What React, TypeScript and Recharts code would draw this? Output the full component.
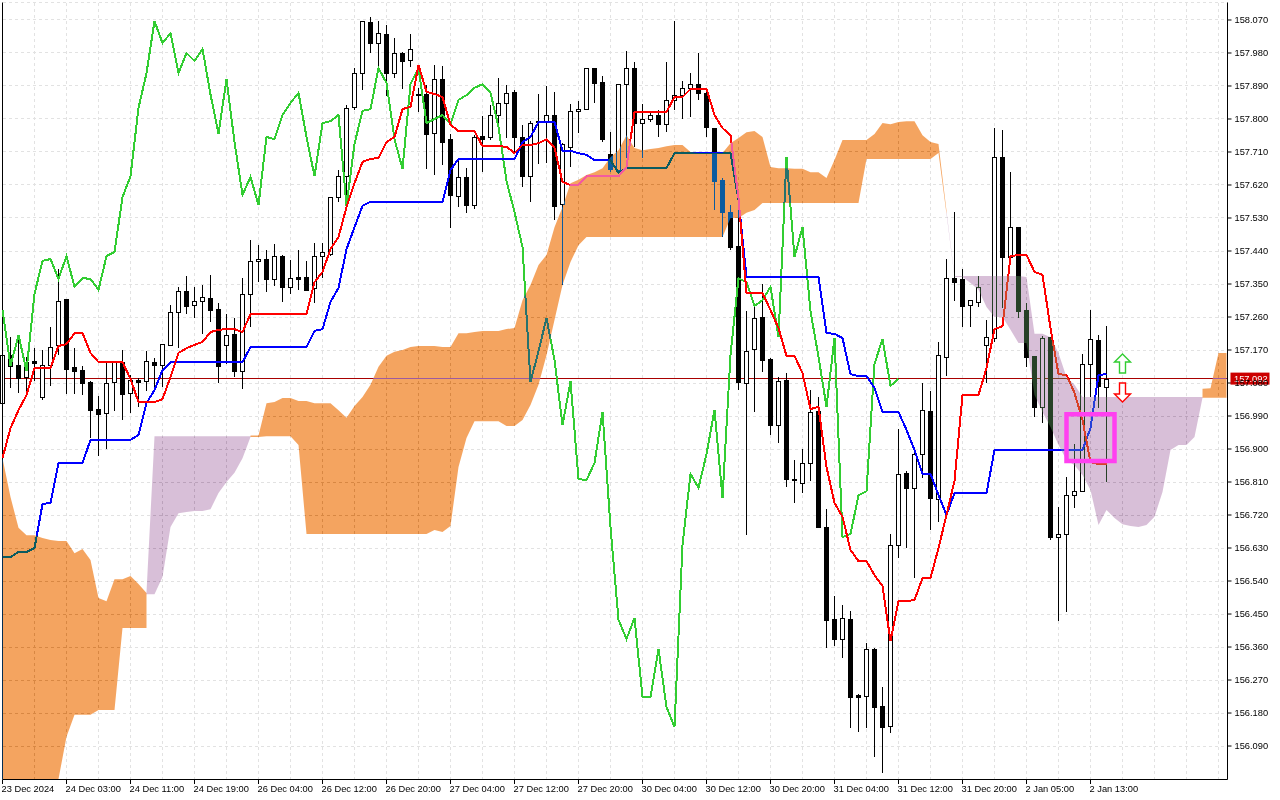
import {
  Area,
  Bar,
  CartesianGrid,
  ComposedChart,
  Line,
  ReferenceArea,
  ReferenceDot,
  ReferenceLine,
  XAxis,
  YAxis,
} from "recharts";

const FONT = '"Liberation Sans", Arial, sans-serif';

const priceTicks = [
  156.09, 156.18, 156.27, 156.36, 156.45, 156.54, 156.63, 156.72, 156.81, 156.9, 156.99, 157.08,
  157.17, 157.26, 157.35, 157.44, 157.53, 157.62, 157.71, 157.8, 157.89, 157.98, 158.07,
];

const timeLabels = [
  "23 Dec 2024", "24 Dec 03:00", "24 Dec 11:00", "24 Dec 19:00", "26 Dec 04:00", "26 Dec 12:00",
  "26 Dec 20:00", "27 Dec 04:00", "27 Dec 12:00", "27 Dec 20:00", "30 Dec 04:00", "30 Dec 12:00",
  "30 Dec 20:00", "31 Dec 04:00", "31 Dec 12:00", "31 Dec 20:00", "2 Jan 05:00", "2 Jan 13:00",
];

const opens = [
  157.025, 157.156, 157.129, 157.096, 157.14, 157.042, 157.129, 157.184, 157.309, 157.124,
  157.115, 157.083, 157.009, 156.998, 157.083, 157.137, 157.053, 157.088, 157.085, 157.137,
  157.129, 157.184, 157.274, 157.331, 157.293, 157.304, 157.312, 157.282, 157.184, 157.214,
  157.113, 157.323, 157.413, 157.418, 157.364, 157.426, 157.342, 157.369, 157.369, 157.339,
  157.426, 157.432, 157.587, 157.644, 157.833, 157.925, 158.065, 158.007, 158.032, 157.925,
  157.98, 157.961, 157.869, 157.868, 157.762, 157.909, 157.745, 157.59, 157.642, 157.565,
  157.754, 157.751, 157.811, 157.844, 157.874, 157.751, 157.644, 157.792, 157.792, 157.811,
  157.568, 157.724, 157.822, 157.827, 157.939, 157.901, 157.704, 157.661, 157.895, 157.939,
  157.789, 157.8, 157.811, 157.786, 157.852, 157.865, 157.885, 157.895, 157.871, 157.775,
  157.634, 157.546, 157.454, 157.08, 157.173, 157.26, 157.145, 156.965, 157.088, 156.818,
  156.807, 156.862, 157.004, 156.687, 156.436, 156.382, 156.436, 156.229, 156.226, 156.355,
  156.199, 156.144, 156.638, 156.834, 156.794, 156.886, 157.004, 156.764, 157.151, 157.366,
  157.364, 157.293, 157.301, 157.184, 157.203, 157.696, 157.424, 157.505, 157.279, 157.154,
  157.015, 157.205, 156.66, 156.668, 156.774, 156.785, 157.132, 157.197, 157.069,
];

const closes = [
  157.156, 157.126, 157.094, 157.137, 157.134, 157.129, 157.178, 157.304, 157.118, 157.113,
  157.08, 157.006, 156.995, 157.08, 157.137, 157.05, 157.088, 157.083, 157.14, 157.129,
  157.186, 157.274, 157.331, 157.29, 157.304, 157.315, 157.279, 157.126, 157.211, 157.113,
  157.323, 157.413, 157.418, 157.364, 157.426, 157.342, 157.366, 157.364, 157.334, 157.426,
  157.437, 157.587, 157.644, 157.83, 157.925, 158.067, 158.007, 158.034, 157.925, 157.98,
  157.958, 157.991, 157.867, 157.759, 157.909, 157.737, 157.593, 157.642, 157.565, 157.751,
  157.745, 157.811, 157.844, 157.871, 157.751, 157.644, 157.789, 157.794, 157.811, 157.563,
  157.732, 157.822, 157.827, 157.939, 157.898, 157.745, 157.664, 157.895, 157.939, 157.789,
  157.8, 157.811, 157.786, 157.852, 157.865, 157.885, 157.895, 157.871, 157.778, 157.631,
  157.546, 157.451, 157.083, 157.167, 157.257, 157.143, 156.965, 157.085, 156.818, 156.815,
  156.862, 157.001, 156.687, 156.434, 156.382, 156.439, 156.224, 156.224, 156.355, 156.196,
  156.142, 156.638, 156.832, 156.794, 156.886, 157.006, 156.766, 157.156, 157.366, 157.355,
  157.29, 157.306, 157.342, 157.205, 157.696, 157.424, 157.505, 157.276, 157.151, 157.015,
  157.203, 156.66, 156.668, 156.774, 156.785, 157.132, 157.2, 157.072, 157.092,
];

const highs = [
  157.165, 157.205, 157.203, 157.151, 157.175, 157.17, 157.233, 157.391, 157.309, 157.175,
  157.126, 157.085, 157.045, 157.134, 157.14, 157.17, 157.102, 157.094, 157.167, 157.148,
  157.186, 157.293, 157.342, 157.372, 157.342, 157.347, 157.375, 157.298, 157.268, 157.257,
  157.366, 157.47, 157.456, 157.443, 157.459, 157.429, 157.415, 157.443, 157.413, 157.462,
  157.462, 157.587, 157.661, 157.838, 157.939, 158.067, 158.078, 158.067, 158.056, 158.021,
  157.983, 158.032, 157.884, 157.893, 157.947, 157.944, 157.759, 157.688, 157.666, 157.756,
  157.808, 157.838, 157.912, 157.893, 157.879, 157.784, 157.794, 157.868, 157.89, 157.874,
  157.735, 157.841, 157.849, 157.939, 157.939, 157.917, 157.764, 157.895, 157.985, 157.955,
  157.841, 157.819, 157.825, 157.955, 158.067, 157.904, 157.925, 157.98, 157.874, 157.775,
  157.639, 157.565, 157.579, 157.276, 157.287, 157.35, 157.148, 157.096, 157.107, 156.87,
  156.9, 157.061, 157.042, 156.736, 156.499, 156.475, 156.458, 156.232, 156.371, 156.357,
  156.251, 156.668, 156.954, 156.84, 156.897, 157.08, 157.058, 157.192, 157.418, 157.546,
  157.391, 157.306, 157.372, 157.252, 157.775, 157.77, 157.655, 157.505, 157.298, 157.154,
  157.208, 157.205, 156.742, 156.824, 156.914, 157.159, 157.279, 157.211, 157.235,
];

const lows = [
  157.02, 157.066, 157.053, 157.053, 157.085, 157.034, 157.072, 157.156, 157.05, 157.05,
  157.047, 156.93, 156.881, 156.9, 157.004, 156.979, 156.998, 157.015, 157.058, 157.069,
  157.069, 157.181, 157.175, 157.268, 157.257, 157.214, 157.246, 157.08, 157.132, 157.096,
  157.064, 157.233, 157.355, 157.328, 157.345, 157.301, 157.323, 157.334, 157.334, 157.298,
  157.366, 157.426, 157.574, 157.56, 157.825, 157.879, 157.98, 157.925, 157.863, 157.912,
  157.882, 157.942, 157.819, 157.664, 157.647, 157.674, 157.503, 157.56, 157.544, 157.555,
  157.655, 157.743, 157.789, 157.748, 157.71, 157.614, 157.574, 157.677, 157.68, 157.525,
  157.347, 157.669, 157.762, 157.825, 157.844, 157.737, 157.655, 157.653, 157.694, 157.724,
  157.694, 157.792, 157.751, 157.764, 157.825, 157.8, 157.805, 157.852, 157.751, 157.552,
  157.478, 157.443, 157.061, 156.665, 157.001, 157.11, 156.938, 156.916, 156.796, 156.753,
  156.78, 156.813, 156.685, 156.357, 156.363, 156.33, 156.139, 156.128, 156.139, 156.06,
  156.016, 156.125, 156.603, 156.63, 156.548, 156.821, 156.679, 156.701, 157.099, 157.304,
  157.233, 157.233, 157.287, 157.08, 157.192, 157.284, 157.415, 157.257, 157.124, 156.987,
  156.971, 156.652, 156.431, 156.455, 156.739, 156.783, 157.042, 157.012, 156.81,
];

const tenkan = [
  156.875, 156.957, 157.006, 157.047, 157.121, 157.121, 157.121, 157.181, 157.186, 157.216,
  157.216, 157.162, 157.137, 157.137, 157.137, 157.137, 157.091, 157.028, 157.028, 157.028,
  157.036, 157.096, 157.162, 157.175, 157.184, 157.192, 157.219, 157.225, 157.227, 157.227,
  157.219, 157.268, 157.268, 157.268, 157.268, 157.268, 157.268, 157.268, 157.268, 157.355,
  157.383, 157.445, 157.478, 157.56, 157.625, 157.683, 157.691, 157.694, 157.737, 157.751,
  157.827, 157.833, 157.947, 157.874, 157.868, 157.86, 157.784, 157.767, 157.767, 157.767,
  157.726, 157.726, 157.726, 157.724, 157.707, 157.729, 157.729, 157.734, 157.745, 157.721,
  157.628, 157.62, 157.62, 157.644, 157.644, 157.644, 157.644, 157.644, 157.669, 157.819,
  157.819, 157.819, 157.819, 157.819, 157.86, 157.86, 157.882, 157.882, 157.882, 157.811,
  157.775, 157.756, 157.584, 157.325, 157.325, 157.325, 157.279, 157.23, 157.154, 157.154,
  157.107, 157.009, 157.015, 156.851, 156.753, 156.715, 156.625, 156.594, 156.594, 156.556,
  156.526, 156.376, 156.485, 156.485, 156.488, 156.548, 156.548, 156.63, 156.72, 156.813,
  157.047, 157.047, 157.047, 157.121, 157.227, 157.235, 157.426, 157.429, 157.429, 157.383,
  157.375, 157.23, 157.104, 157.102, 157.053, 156.979, 156.864, 156.859, 156.859,
];

const kijun = [
  156.605, 156.605, 156.619, 156.619, 156.63, 156.75, 156.753, 156.862, 156.862, 156.862,
  156.862, 156.925, 156.925, 156.925, 156.925, 156.925, 156.925, 156.938, 157.025, 157.061,
  157.115, 157.137, 157.137, 157.137, 157.137, 157.137, 157.137, 157.137, 157.137, 157.137,
  157.137, 157.178, 157.178, 157.178, 157.178, 157.178, 157.178, 157.178, 157.178, 157.222,
  157.227, 157.301, 157.339, 157.445, 157.505, 157.563, 157.574, 157.574, 157.574, 157.574,
  157.574, 157.574, 157.574, 157.574, 157.574, 157.574, 157.661, 157.691, 157.691, 157.691,
  157.691, 157.691, 157.691, 157.691, 157.691, 157.737, 157.751, 157.792, 157.792, 157.792,
  157.713, 157.713, 157.707, 157.702, 157.688, 157.688, 157.688, 157.653, 157.666, 157.666,
  157.666, 157.666, 157.666, 157.666, 157.707, 157.707, 157.707, 157.707, 157.707, 157.707,
  157.707, 157.707, 157.579, 157.369, 157.369, 157.369, 157.369, 157.369, 157.369, 157.369,
  157.369, 157.369, 157.369, 157.216, 157.214, 157.203, 157.104, 157.099, 157.099, 157.066,
  157.001, 157.001, 157.001, 156.952, 156.897, 156.832, 156.832, 156.774, 156.72, 156.78,
  156.78, 156.78, 156.78, 156.78, 156.897, 156.897, 156.897, 156.897, 156.897, 156.897,
  156.897, 156.897, 156.897, 156.897, 156.897, 156.897, 156.957, 157.102, 157.104,
];

// chikou is plotted 26 bars back, so it stops at bar 112
const chikou = [
  157.279, 157.126, 157.211, 157.113, 157.323, 157.413, 157.418, 157.364, 157.426, 157.342,
  157.366, 157.364, 157.334, 157.426, 157.437, 157.587, 157.644, 157.83, 157.925, 158.067,
  158.007, 158.034, 157.925, 157.98, 157.958, 157.991, 157.867, 157.759, 157.909, 157.737,
  157.593, 157.642, 157.565, 157.751, 157.745, 157.811, 157.844, 157.871, 157.751, 157.644,
  157.789, 157.794, 157.811, 157.563, 157.732, 157.822, 157.827, 157.939, 157.898, 157.745,
  157.664, 157.895, 157.939, 157.789, 157.8, 157.811, 157.786, 157.852, 157.865, 157.885,
  157.895, 157.871, 157.778, 157.631, 157.546, 157.451, 157.083, 157.167, 157.257, 157.143,
  156.965, 157.085, 156.818, 156.815, 156.862, 157.001, 156.687, 156.434, 156.382, 156.439,
  156.224, 156.224, 156.355, 156.196, 156.142, 156.638, 156.832, 156.794, 156.886, 157.006,
  156.766, 157.156, 157.366, 157.355, 157.29, 157.306, 157.342, 157.205, 157.696, 157.424,
  157.505, 157.276, 157.151, 157.015, 157.203, 156.66, 156.668, 156.774, 156.785, 157.132,
  157.2, 157.072, 157.092,
];

// bullish cloud, three stretches (bars 0-18, 31-118, 150-153)
const bullTopA = [
  156.875, 156.769, 156.685, 156.665, 156.665, 156.657, 156.652, 156.649, 156.649, 156.616,
  156.627, 156.597, 156.494, 156.485, 156.545, 156.545, 156.554, 156.532, 156.507,
];
const bullBottomA = [
  156.0, 156.0, 156.0, 156.0, 156.0, 156.0, 156.0, 156.0, 156.115, 156.175,
  156.175, 156.175, 156.188, 156.188, 156.188, 156.412, 156.412, 156.412, 156.412,
];
const bullTopB = [
  156.937, 156.937, 157.025, 157.028, 157.039, 157.039, 157.031, 157.031, 157.025, 157.025,
  157.025, 157.006, 156.985, 157.017, 157.042, 157.075, 157.124, 157.154, 157.165, 157.17,
  157.178, 157.181, 157.181, 157.181, 157.178, 157.178, 157.216, 157.216, 157.219, 157.222,
  157.222, 157.222, 157.227, 157.23, 157.306, 157.347, 157.402, 157.429, 157.505, 157.56,
  157.625, 157.634, 157.647, 157.655, 157.666, 157.696, 157.715, 157.756, 157.721, 157.715,
  157.718, 157.721, 157.726, 157.729, 157.729, 157.71, 157.707, 157.707, 157.707, 157.707,
  157.734, 157.748, 157.764, 157.767, 157.751, 157.669, 157.666, 157.666, 157.664, 157.664,
  157.655, 157.655, 157.639, 157.688, 157.743, 157.743, 157.743, 157.743, 157.759, 157.789,
  157.786, 157.792, 157.794, 157.794, 157.756, 157.737, 157.732, 157.549,
];
const bullBottomB = [
  156.933, 156.933, 156.935, 156.935, 156.935, 156.935, 156.911, 156.668, 156.668, 156.668,
  156.668, 156.668, 156.668, 156.668, 156.668, 156.668, 156.668, 156.668, 156.668, 156.668,
  156.668, 156.668, 156.668, 156.679, 156.674, 156.69, 156.851, 156.93, 156.976, 156.976,
  156.976, 156.976, 156.963, 156.963, 156.979, 157.02, 157.075, 157.156, 157.252, 157.347,
  157.41, 157.456, 157.478, 157.478, 157.478, 157.478, 157.478, 157.478, 157.478, 157.478,
  157.478, 157.478, 157.478, 157.478, 157.478, 157.478, 157.478, 157.478, 157.478, 157.478,
  157.53, 157.53, 157.544, 157.552, 157.571, 157.571, 157.571, 157.571, 157.571, 157.571,
  157.571, 157.571, 157.571, 157.571, 157.571, 157.571, 157.571, 157.691, 157.691, 157.691,
  157.691, 157.691, 157.691, 157.691, 157.691, 157.691, 157.707, 157.541,
];
const bullTopC = [157.064, 157.066, 157.162, 157.162];
const bullBottomC = [157.04, 157.04, 157.04, 157.04];

// bearish cloud, two stretches (bars 18-31, 118-150)
const bearTopA = [
  156.51, 156.935, 156.935, 156.935, 156.935, 156.935, 156.935, 156.935, 156.935, 156.935,
  156.935, 156.935, 156.935, 156.935,
];
const bearBottomA = [
  156.504, 156.504, 156.551, 156.687, 156.725, 156.728, 156.731, 156.731, 156.736, 156.78,
  156.81, 156.835, 156.875, 156.933,
];
const bearTopB = [
  157.549, 157.372, 157.372, 157.372, 157.372, 157.372, 157.372, 157.372, 157.372, 157.372,
  157.369, 157.214, 157.214, 157.205, 157.162, 157.096, 157.075, 157.042, 157.042, 157.042,
  157.042, 157.042, 157.042, 157.042, 157.042, 157.042, 157.042, 157.042, 157.042, 157.042,
  157.042, 157.042, 157.042,
];
const bearBottomB = [
  157.541, 157.369, 157.369, 157.353, 157.334, 157.287, 157.26, 157.26, 157.225, 157.189,
  157.189, 157.047, 157.001, 156.96, 156.911, 156.87, 156.856, 156.829, 156.788, 156.693,
  156.734, 156.712, 156.695, 156.69, 156.687, 156.693, 156.715, 156.783, 156.897, 156.911,
  156.911, 156.933, 157.04,
];

const LAST_BAR = 153;

const rangeAt = (i: number, start: number, tops: number[], bottoms: number[]) =>
  i >= start && i - start < tops.length ? [bottoms[i - start], tops[i - start]] : null;

const tableData = Array.from({ length: LAST_BAR + 1 }, (_, i) => ({
  index: i,
  open: opens[i],
  close: closes[i],
  candle: i < opens.length ? [lows[i], highs[i]] : null,
  tenkan: i < tenkan.length ? tenkan[i] : null,
  kijun: i < kijun.length ? kijun[i] : null,
  chikou: i < chikou.length ? chikou[i] : null,
  bull:
    rangeAt(i, 0, bullTopA, bullBottomA) ??
    rangeAt(i, 31, bullTopB, bullBottomB) ??
    rangeAt(i, 150, bullTopC, bullBottomC),
  bear: rangeAt(i, 18, bearTopA, bearBottomA) ?? rangeAt(i, 118, bearTopB, bearBottomB),
}));

const gridTicks = Array.from({ length: 39 }, (_, i) => i * 4);

const CandleShape = (props: any) => {
  const { x, y, width, height, payload } = props;
  if (!payload.candle) return null;
  const [low, high] = payload.candle;
  const perUnit = height / (high - low);
  const cx = Math.round(x + width / 2 - 0.5) + 0.5;
  const top = Math.round(y + (high - Math.max(payload.open, payload.close)) * perUnit) + 0.5;
  const bottom = Math.round(y + (high - Math.min(payload.open, payload.close)) * perUnit) + 0.5;
  const up = payload.close > payload.open;
  return (
    <g shapeRendering="crispEdges">
      <line x1={cx} x2={cx} y1={y} y2={y + height} stroke="#000" />
      <rect
        x={cx - 2}
        y={top}
        width={4}
        height={Math.max(bottom - top, 1)}
        fill={up ? "#fff" : "#000"}
        stroke="#000"
      />
    </g>
  );
};

const TimeTick = (props: any) => {
  const { x, y, payload } = props;
  if (payload.value % 8 !== 0) return <g />;
  const label = timeLabels[payload.value / 8];
  if (!label) return <g />;
  return (
    <g>
      <line x1={x} x2={x} y1={y - 8} y2={y - 4} stroke="#000" shapeRendering="crispEdges" />
      <text x={x - 1} y={y + 4} fontSize={9.3} fontFamily={FONT} fill="#000">
        {label}
      </text>
    </g>
  );
};

const PriceTag = (props: any) => {
  const { cx, cy } = props;
  return (
    <g>
      <rect x={cx + 3} y={cy - 6} width={39} height={12} fill="#cc0000" />
      <text x={cx + 6.5} y={cy + 3.5} fontSize={9.3} fontFamily={FONT} fill="#fff">
        157.092
      </text>
    </g>
  );
};

const UpArrow = (props: any) => {
  const { cx, cy } = props;
  return (
    <path
      d={`M${cx} ${cy} L${cx + 8} ${cy + 8} H${cx + 3} V${cy + 19} H${cx - 3} V${cy + 8} H${cx - 8} Z`}
      fill="#fff"
      stroke="#32cd32"
      strokeWidth={1.4}
    />
  );
};

const DownArrow = (props: any) => {
  const { cx, cy } = props;
  return (
    <path
      d={`M${cx} ${cy} L${cx + 8} ${cy - 8} H${cx + 3} V${cy - 19} H${cx - 3} V${cy - 8} H${cx - 8} Z`}
      fill="#fff"
      stroke="#ff0000"
      strokeWidth={1.4}
    />
  );
};

const App = () => {
  return (
    <div style={{ position: "absolute", left: 0, top: 0, width: 1280, height: 800, background: "#fff" }}>
      <style>{`
        .cloud .recharts-area-area { mix-blend-mode: difference; }
        .recharts-line-curve { shape-rendering: crispEdges; }
      `}</style>
      <ComposedChart
        width={1280}
        height={800}
        data={tableData}
        margin={{ top: 2.5, right: 0, bottom: 0.5, left: 2.5 }}
      >
        <CartesianGrid stroke="#e2e2e2" strokeDasharray="3 3" fill="#fff" fillOpacity={1} shapeRendering="crispEdges" />
        <XAxis
          dataKey="index"
          type="number"
          domain={[0, 153.125]}
          ticks={gridTicks}
          interval={0}
          height={20}
          tick={<TimeTick />}
          tickLine={false}
          axisLine={{ stroke: "#000" }}
        />
        <YAxis
          orientation="right"
          type="number"
          domain={[155.9987, 158.1177]}
          ticks={priceTicks}
          interval={0}
          width={52.5}
          tickFormatter={(v: number) => v.toFixed(3)}
          tickSize={4}
          tickMargin={3}
          tick={{ fontSize: 9.3, fill: "#000", fontFamily: FONT }}
          tickLine={{ stroke: "#000" }}
          axisLine={{ stroke: "#000" }}
        />
        <ReferenceLine x={0} stroke="#000" />
        <ReferenceLine y={157.092} stroke="#a80000" zIndex={50} shapeRendering="crispEdges" />
        <Bar dataKey="candle" barSize={5} shape={<CandleShape />} isAnimationActive={false} />
        <Line dataKey="chikou" stroke="#32cd32" strokeWidth={2} dot={false} isAnimationActive={false} />
        <Line dataKey="kijun" stroke="#0000ff" strokeWidth={2} dot={false} isAnimationActive={false} />
        <Line dataKey="tenkan" stroke="#ff0000" strokeWidth={2} dot={false} isAnimationActive={false} />
        <Area
          className="cloud"
          dataKey="bull"
          type="linear"
          fill="#0b5b9f"
          fillOpacity={1}
          stroke="none"
          dot={false}
          activeDot={false}
          isAnimationActive={false}
          zIndex={450}
        />
        <Area
          className="cloud"
          dataKey="bear"
          type="linear"
          fill="#274027"
          fillOpacity={1}
          stroke="none"
          dot={false}
          activeDot={false}
          isAnimationActive={false}
          zIndex={450}
        />
        <ReferenceArea
          x1={133}
          x2={139}
          y1={156.867}
          y2={156.995}
          fill="none"
          stroke="#ff40f0"
          strokeWidth={4.5}
          zIndex={470}
        />
        <ReferenceDot x={140} y={157.159} shape={<UpArrow />} ifOverflow="visible" zIndex={480} />
        <ReferenceDot x={140} y={157.028} shape={<DownArrow />} ifOverflow="visible" zIndex={480} />
        <ReferenceDot x={153.125} y={157.092} shape={<PriceTag />} ifOverflow="visible" zIndex={700} />
      </ComposedChart>
    </div>
  );
};

export default App;
